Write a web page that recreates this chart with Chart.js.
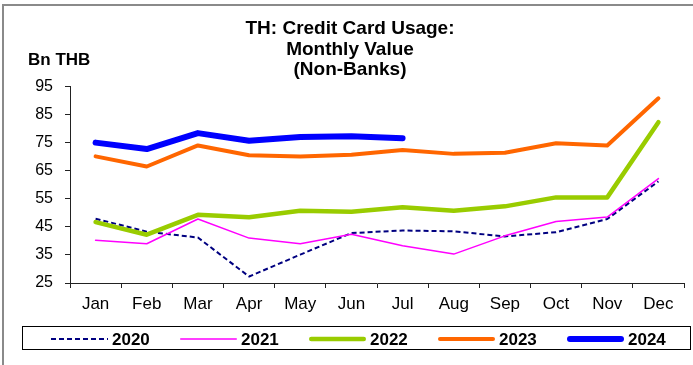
<!DOCTYPE html>
<html>
<head>
<meta charset="utf-8">
<script src="https://cdn.jsdelivr.net/npm/chart.js@4.4.1/dist/chart.umd.min.js"></script>
<style>
    html, body { margin: 0; padding: 0; background: #fff; }
    #wrap { position: relative; width: 693px; height: 365px; }
</style>
</head>
<body>
<div id="wrap"><canvas id="usageChart" width="693" height="365"></canvas></div>
<script>
// Chart data
const months = ['Jan', 'Feb', 'Mar', 'Apr', 'May', 'Jun', 'Jul', 'Aug', 'Sep', 'Oct', 'Nov', 'Dec'];
const years = ['2020', '2021', '2022', '2023', '2024'];
const value2020 = [47.9, 43.3, 41.2, 27.3, 35.1, 42.8, 43.7, 43.4, 41.6, 43.1, 47.8, 61.2];
const value2021 = [40.2, 39.0, 47.8, 41.0, 39.0, 42.4, 38.3, 35.3, 41.8, 46.9, 48.5, 62.2];
const value2022 = [46.7, 42.2, 49.3, 48.4, 50.7, 50.4, 52.0, 50.7, 52.3, 55.5, 55.5, 82.3];
const value2023 = [70.1, 66.5, 74.0, 70.5, 70.1, 70.7, 72.4, 71.0, 71.4, 74.8, 74.0, 90.8];
const value2024 = [75.0, 72.7, 78.4, 75.7, 77.0, 77.3, 76.6];
const yTicks = [25, 35, 45, 55, 65, 75, 85, 95];
const titleLines = ['TH: Credit Card Usage:', 'Monthly Value', '(Non-Banks)'];
const unitLabel = 'Bn THB';

const seriesStyles = [
    { color: '#000080', width: 2, dash: [5, 3], cap: 'butt' },
    { color: '#FF00FF', width: 1.5, dash: [], cap: 'round' },
    { color: '#99CC00', width: 4.5, dash: [], cap: 'round' },
    { color: '#FF6600', width: 4, dash: [], cap: 'round' },
    { color: '#0000FF', width: 6, dash: [], cap: 'round' }
];
const seriesValues = [value2020, value2021, value2022, value2023, value2024];

const FONT = '"Liberation Sans", Arial, sans-serif';

// Title, unit label, frame and boxed legend
const decorPlugin = {
    id: 'decor',
    afterDraw(chart) {
        const ctx = chart.ctx;
        ctx.save();

        // outer frame (top and left edges only)
        ctx.strokeStyle = '#8a8a8a';
        ctx.lineWidth = 2;
        ctx.beginPath();
        ctx.moveTo(3, 365);
        ctx.lineTo(3, 5);
        ctx.lineTo(693, 5);
        ctx.stroke();

        ctx.fillStyle = '#000';
        ctx.textAlign = 'center';
        ctx.textBaseline = 'alphabetic';
        ctx.font = 'bold 19px ' + FONT;
        titleLines.forEach((line, i) => ctx.fillText(line, 350, 34 + i * 20.5));

        ctx.textAlign = 'left';
        ctx.font = 'bold 17px ' + FONT;
        ctx.fillText(unitLabel, 28, 65);

        // legend box
        ctx.strokeStyle = '#000';
        ctx.lineWidth = 1;
        ctx.strokeRect(22.5, 326.5, 668, 23);

        ctx.font = 'bold 17px ' + FONT;
        ctx.textBaseline = 'middle';
        chart.data.datasets.forEach((ds, i) => {
            const x0 = 51 + i * 129;
            const y = 339;
            const inset = ds.borderCapStyle === 'round' ? ds.borderWidth / 2 : 0;
            ctx.save();
            ctx.strokeStyle = ds.borderColor;
            ctx.lineWidth = ds.borderWidth;
            ctx.setLineDash(ds.borderDash || []);
            ctx.lineCap = ds.borderCapStyle;
            ctx.beginPath();
            ctx.moveTo(x0 + inset, y);
            ctx.lineTo(x0 + 57 - inset, y);
            ctx.stroke();
            ctx.restore();
            ctx.fillText(ds.label, x0 + 61, y + 1);
        });
        ctx.restore();
    }
};

const ctx = document.getElementById('usageChart').getContext('2d');
new Chart(ctx, {
    type: 'line',
    data: {
        labels: months,
        datasets: years.map((year, i) => ({
            label: year,
            data: seriesValues[i],
            borderColor: seriesStyles[i].color,
            backgroundColor: seriesStyles[i].color,
            borderWidth: seriesStyles[i].width,
            borderDash: seriesStyles[i].dash,
            borderCapStyle: seriesStyles[i].cap,
            borderJoinStyle: 'round',
            pointRadius: 0,
            tension: 0,
            fill: false,
            order: years.length - i
        }))
    },
    options: {
        responsive: false,
        animation: false,
        devicePixelRatio: 1,
        layout: {
            padding: { top: 86.5, left: 0, right: 9, bottom: 42 }
        },
        plugins: {
            legend: { display: false },
            title: { display: false },
            tooltip: { enabled: false }
        },
        scales: {
            x: {
                offset: true,
                grid: {
                    offset: true,
                    drawOnChartArea: false,
                    drawTicks: true,
                    tickLength: 5,
                    color: '#222'
                },
                border: { color: '#222', width: 1 },
                ticks: {
                    color: '#000',
                    padding: 6,
                    maxRotation: 0,
                    font: { family: FONT, size: 17 }
                },
                afterFit(scale) { scale.height = 40; }
            },
            y: {
                min: 25,
                max: 95,
                afterBuildTicks(scale) { scale.ticks = yTicks.map(v => ({ value: v })); },
                grid: {
                    drawOnChartArea: false,
                    drawTicks: true,
                    tickLength: 5,
                    color: '#222'
                },
                border: { color: '#222', width: 1 },
                ticks: {
                    color: '#000',
                    padding: 12,
                    font: { family: FONT, size: 16 }
                },
                afterFit(scale) { scale.width = 70; }
            }
        }
    },
    plugins: [decorPlugin]
});
</script>
</body>
</html>
